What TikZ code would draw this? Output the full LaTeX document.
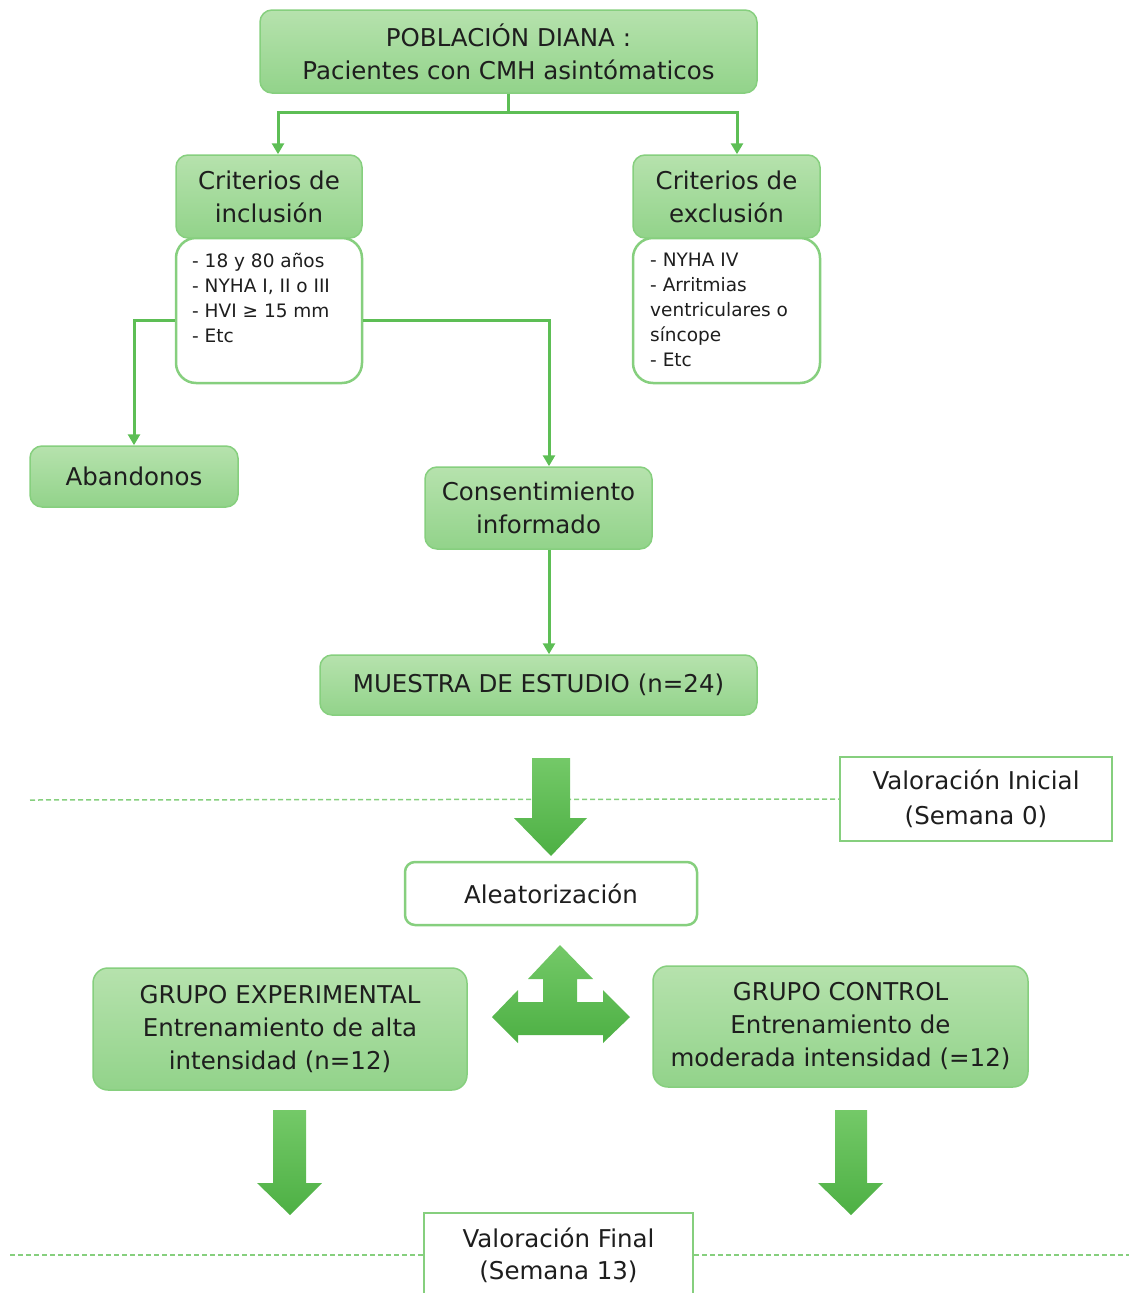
\documentclass[tikz,border=0pt]{standalone}
\usepackage{fontspec}
\setmainfont{DejaVu Sans}
\usetikzlibrary{arrows.meta,calc}
\definecolor{gfillT}{HTML}{B6E2AD}
\definecolor{gfillB}{HTML}{92D38A}
\definecolor{gborder}{HTML}{86CF7E}
\definecolor{gline}{HTML}{5DBE55}
\definecolor{arrT}{HTML}{74C968}
\definecolor{arrB}{HTML}{4DB044}
\definecolor{txt}{HTML}{1E1E1E}
\begin{document}
\begin{tikzpicture}[x=1pt,y=-1pt,
  gbox/.style={draw=gborder,line width=1.5pt,top color=gfillT,bottom color=gfillB,
    rounded corners=12pt,font=\fontsize{24.5}{33}\selectfont,text=txt,align=center,inner sep=0pt},
  wbox/.style={draw=gborder,line width=2.5pt,fill=white,rounded corners=20pt,inner sep=0pt},
  sqbox/.style={draw=gborder,line width=2.5pt,fill=white,font=\fontsize{24.5}{35}\selectfont,
    text=txt,align=center,inner sep=0pt},
  listtxt/.style={font=\fontsize{18.5}{25}\selectfont,text=txt,align=left,inner sep=0pt},
  conn/.style={draw=gline,line width=3pt,-{Triangle[width=12pt,length=11pt]}},
  dline/.style={draw=gborder,line width=1.5pt,dash pattern=on 5pt off 3pt},
  bigarrow/.style={top color=arrT,bottom color=arrB}]
\useasboundingbox (0,0) rectangle (1129,1293);

% top
\node[gbox,minimum width=497,minimum height=83] (top) at (508.5,51.5)
  {POBLACIÓN DIANA :\\Pacientes con CMH asintómaticos};

% inclusion
\node[wbox,minimum width=186,minimum height=145] (incl) at (269,310.5) {};
\node[gbox,minimum width=186,minimum height=83] (inch) at (269,196.5) {Criterios de\\inclusión};
\node[listtxt,anchor=north west] (incltxt) at (192,253)
  {- 18 y 80 años\\- NYHA I, II o III\\- HVI ≥ 15 mm\\- Etc};

% exclusion
\node[wbox,minimum width=187,minimum height=145] (excl) at (726.5,310.5) {};
\node[gbox,minimum width=187,minimum height=83] (exch) at (726.5,196.5) {Criterios de\\exclusión};
\node[listtxt,anchor=north west] (excltxt) at (650,253)
  {- NYHA IV\\- Arritmias\\ventriculares o\\síncope\\- Etc};

\node[gbox,minimum width=208,minimum height=61] (aband) at (134,476.5) {Abandonos};
\node[gbox,minimum width=227,minimum height=82] (cons) at (538.5,508) {Consentimiento\\informado};
\node[gbox,minimum width=437,minimum height=60] (muestra) at (538.5,685) {MUESTRA DE ESTUDIO (n=24)};

% connectors
\draw[conn] (top.south) -- ++(0,19) -| ([xshift=9pt]inch.north);
\draw[conn] (top.south) -- ++(0,19) -| ([xshift=10.5pt]exch.north);
\draw[conn] ([yshift=-9.5pt]incl.west) -| (aband.north);
\draw[conn] ([yshift=-9.5pt]incl.east) -| ([xshift=10.5pt]cons.north);
\draw[conn] ([xshift=10.5pt]cons.south) -- ([xshift=10.5pt]muestra.north);

% valoracion inicial
\node[sqbox,minimum width=272,minimum height=84] (vini) at (976,799)
  {Valoración Inicial\\(Semana 0)};
\draw[dline] (30,800) -- (vini.west);
\shade[bigarrow] (532,758) -- (570,758) -- (570,818) -- (587,818) -- (551,856)
  -- (514,818) -- (532,818) -- cycle;

\node[sqbox,rounded corners=10pt,minimum width=292,minimum height=63] (alea) at (551,893.5)
  {Aleatorización};

% triple arrow
\shade[bigarrow] (560,945) -- (593,979) -- (577,979) -- (577,1002) -- (603,1002)
  -- (603,990) -- (630,1017) -- (603,1043) -- (603,1035) -- (518,1035) -- (518,1043)
  -- (492,1017) -- (518,990) -- (518,1002) -- (543,1002) -- (543,979) -- (528,979) -- cycle;

\node[gbox,rounded corners=15pt,minimum width=374,minimum height=122] (gexp) at (280,1029)
  {GRUPO EXPERIMENTAL\\Entrenamiento de alta\\intensidad (n=12)};
\node[gbox,rounded corners=15pt,minimum width=375,minimum height=121] (gctl) at (840.5,1026.5)
  {GRUPO CONTROL\\Entrenamiento de\\moderada intensidad (=12)};

\shade[bigarrow] (273,1110) -- (306,1110) -- (306,1183) -- (322,1183) -- (290,1215)
  -- (257,1183) -- (273,1183) -- cycle;
\shade[bigarrow] (835,1110) -- (867,1110) -- (867,1183) -- (883,1183) -- (851,1215)
  -- (818,1183) -- (835,1183) -- cycle;

% valoracion final
\node[sqbox,font=\fontsize{24.5}{32}\selectfont,minimum width=269,minimum height=84] (vfin) at (558.5,1255)
  {Valoración Final\\(Semana 13)};
\draw[dline] (10,1255) -- (vfin.west);
\draw[dline] (vfin.east) -- (1129,1255);
\end{tikzpicture}
\end{document}
